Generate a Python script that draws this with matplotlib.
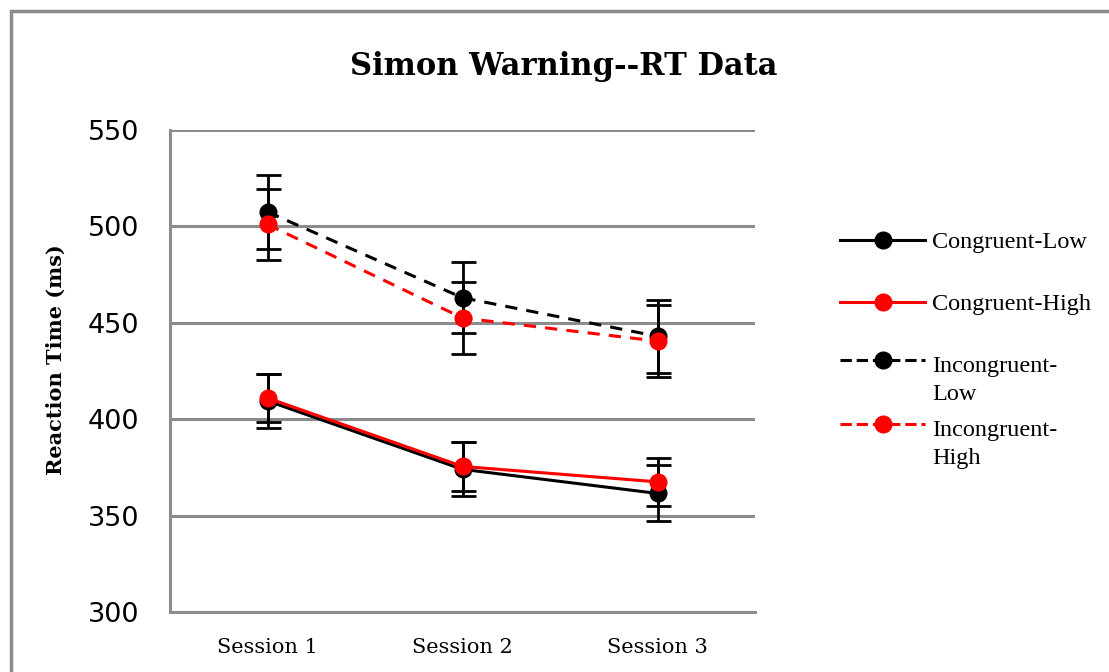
import matplotlib
matplotlib.use("Agg")
import matplotlib.pyplot as plt
from matplotlib.patches import Rectangle
from matplotlib.lines import Line2D

sessions = ["Session 1", "Session 2", "Session 3"]
series_names = ["Congruent-Low", "Congruent-High", "Incongruent-\nLow", "Incongruent-\nHigh"]
congruent_low = [409.5, 374.0, 361.5]
congruent_high = [411.0, 375.5, 367.5]
incongruent_low = [507.5, 463.0, 443.0]
incongruent_high = [501.0, 452.5, 440.5]
err_congruent_low = [14.0, 14.0, 14.5]
err_congruent_high = [12.5, 12.8, 12.5]
err_incongruent_low = [19.0, 18.5, 19.0]
err_incongruent_high = [18.5, 18.5, 18.5]
yticks = [300, 350, 400, 450, 500, 550]

values = [congruent_low, congruent_high, incongruent_low, incongruent_high]
errors = [err_congruent_low, err_congruent_high, err_incongruent_low, err_incongruent_high]
colors = ["black", "red", "black", "red"]
styles = ["-", "-", (0, (4, 3)), (0, (4, 3))]

W, H = 1109, 672
fig = plt.figure(figsize=(W / 100, H / 100), dpi=100)
fig.patch.set_facecolor("white")

# outer chart border
fig.patches.append(Rectangle((10.5 / W, -0.1), 1.2, 1 - 10.5 / H + 0.1,
                             transform=fig.transFigure, fill=False,
                             edgecolor="#8c8c8c", linewidth=2.5, zorder=0))

ax = fig.add_axes([170 / W, 1 - 612 / H, (755 - 170) / W, (612 - 130) / H])
x = list(range(len(sessions)))

grid_c = "#8c8c8c"
for yv in yticks:
    ax.axhline(yv, color=grid_c, linewidth=2.2, zorder=1)

handles = []
for vals, errs, c, ls, name in zip(values, errors, colors, styles, series_names):
    ax.errorbar(x, vals, yerr=errs, fmt="none", ecolor="black", elinewidth=2.0,
                capsize=9, capthick=2.0, zorder=2)
    ln, = ax.plot(x, vals, color=c, linestyle=ls, linewidth=2.2, marker="o",
                  markersize=12, markerfacecolor=c, markeredgecolor=c, label=name, zorder=3)
    handles.append(ln)

ax.set_xlim(-0.5, 2.5)
ax.set_ylim(300, 550)
ax.set_yticks(yticks)
ax.set_yticklabels([str(v) for v in yticks], fontsize=19.5, family="DejaVu Sans")
ax.set_xticks(x)
ax.set_xticklabels(sessions, fontsize=15, family="DejaVu Serif")
ax.tick_params(axis="y", length=0, pad=22)
ax.tick_params(axis="x", length=0, pad=19)
for s in ["top", "right"]:
    ax.spines[s].set_visible(False)
for s in ["left", "bottom"]:
    ax.spines[s].set_color(grid_c)
    ax.spines[s].set_linewidth(2.2)

ax.set_ylabel("Reaction Time (ms)", fontsize=15, fontweight="bold",
              family="DejaVu Serif")
ax.yaxis.set_label_coords((66 - 170) / (755 - 170), (612 - 360) / (612 - 130))

fig.text(564 / W, 1 - 66 / H, "Simon Warning--RT Data", ha="center", va="center",
         fontsize=22, fontweight="bold", family="DejaVu Serif")

# legend (manual layout to mimic spreadsheet legend)
leg_y = [240, 302, 360, 424]
for h, name, yy in zip(handles, series_names, leg_y):
    yf = 1 - yy / H
    fig.lines.append(Line2D([840 / W, 925 / W], [yf, yf], transform=fig.transFigure,
                            color=h.get_color(), linestyle=h.get_linestyle(),
                            linewidth=2.2))
    fig.lines.append(Line2D([883 / W], [yf], transform=fig.transFigure,
                            color=h.get_color(), marker="o", markersize=12,
                            linestyle="none"))
    off = 8 if "\n" not in name else 4
    fig.text(932 / W, 1 - (yy - off) / H, name, ha="left", va="top",
             fontsize=17.5, family="Liberation Serif", linespacing=1.45)

fig.savefig("out.png", dpi=100)
